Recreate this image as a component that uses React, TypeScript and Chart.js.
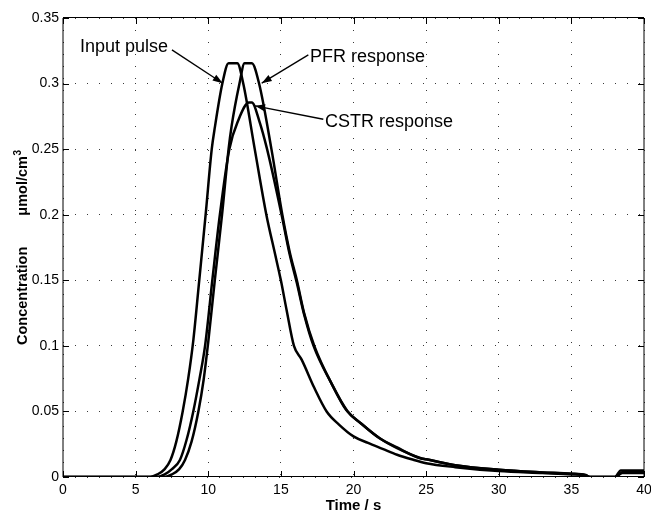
import React, { useEffect, useRef } from 'react';
import { Chart, registerables } from 'chart.js';

Chart.register(...registerables);

// ---- data (time in s, concentration in µmol/cm³) ----
const inputTime = [0, 6.0, 6.5, 7.0, 7.4, 7.8, 8.24, 8.62, 8.98, 9.38, 9.82, 10.24, 10.46, 10.97, 11.4, 12.0, 12.41, 13.2, 14.0, 14.6, 15.0, 15.4, 15.9, 16.43, 17.3, 18.15, 19.0, 20.0, 21.0, 22.0, 23.0, 24.0, 25.0, 27.0, 30.0, 33.0, 35.0, 36.0, 36.3, 38.0, 38.6, 40];
const inputConc = [0, 0, 0.002, 0.006, 0.013, 0.027, 0.05, 0.075, 0.105, 0.15, 0.2, 0.25, 0.267, 0.3, 0.3155, 0.3155, 0.3, 0.25, 0.2, 0.17, 0.15, 0.127, 0.1, 0.0895, 0.068, 0.05, 0.04, 0.031, 0.026, 0.0215, 0.017, 0.0135, 0.0105, 0.0075, 0.0045, 0.003, 0.002, 0.0012, 0, 0, 0.004, 0.004];

const pfrTime = [0, 7.0, 7.5, 8.0, 8.4, 8.85, 9.32, 9.68, 10.0, 10.45, 10.95, 11.4, 11.6, 12.15, 12.5, 13.0, 13.5, 14.35, 15.1, 15.6, 16.1, 16.6, 17.3, 18.5, 19.6, 20.5, 21.8, 23.0, 24.6, 25.0, 27.0, 30.0, 33.0, 35.0, 36.0, 36.2, 38.0, 38.4, 40];
const pfrConc = [0, 0, 0.002, 0.006, 0.013, 0.027, 0.05, 0.074, 0.103, 0.15, 0.2, 0.25, 0.267, 0.3, 0.3155, 0.3155, 0.3, 0.25, 0.2, 0.172, 0.15, 0.125, 0.1, 0.071, 0.05, 0.041, 0.0295, 0.022, 0.0145, 0.0135, 0.009, 0.0055, 0.0035, 0.0025, 0.0015, 0, 0, 0.005, 0.005];

const cstrTime = [0, 6.5, 7.0, 7.5, 8.05, 8.5, 8.97, 9.4, 9.78, 10.3, 10.8, 11.45, 12.07, 12.8, 13.0, 13.5, 14.05, 15.05, 15.6, 16.1, 16.6, 17.25, 18.5, 19.5, 20.5, 21.8, 23.0, 24.6, 25.0, 27.0, 30.0, 33.0, 35.0, 36.0, 36.2, 38.0, 38.5, 40];
const cstrConc = [0, 0, 0.002, 0.006, 0.013, 0.028, 0.05, 0.075, 0.1, 0.152, 0.2, 0.25, 0.272, 0.2855, 0.2855, 0.272, 0.25, 0.2, 0.17, 0.148, 0.124, 0.1, 0.071, 0.051, 0.041, 0.0295, 0.0225, 0.0142, 0.0135, 0.009, 0.0055, 0.0035, 0.0025, 0.0012, 0, 0, 0.003, 0.003];

const xTicks = [0, 5, 10, 15, 20, 25, 30, 35, 40];
const xTickLabels = ['0', '5', '10', '15', '20', '25', '30', '35', '40'];
const yTicks = [0, 0.05, 0.1, 0.15, 0.2, 0.25, 0.3, 0.35];
const yTickLabels = ['0', '0.05', '0.1', '0.15', '0.2', '0.25', '0.3', '0.35'];

const xTitle = 'Time / s';
const yTitleMain = 'Concentration';
const yTitleUnit = 'μmol/cm';
const yTitleSup = '3';

// annotations: label anchor (baseline-left) and arrow, in data units
const annotationLabels = ['Input pulse', 'PFR response', 'CSTR response'];
const annotationLabelT = [1.17, 17.0, 18.04];
const annotationLabelC = [0.3242, 0.3163, 0.2672];
const arrowFromT = [7.5, 16.89, 17.92];
const arrowFromC = [0.3257, 0.3219, 0.2728];
const arrowToT = [10.995, 13.68, 13.22];
const arrowToC = [0.3003, 0.3003, 0.283];

const FONT = '"Liberation Sans", Arial, Helvetica, sans-serif';

const toPoints = (t: number[], c: number[]) => t.map((x, i) => ({ x, y: c[i] }));

const decorPlugin = {
  id: 'decor',
  afterDraw(chart: any) {
    const { ctx, chartArea: a, scales } = chart;
    const xs = scales.x;
    const ys = scales.y;
    ctx.save();

    // box
    ctx.strokeStyle = '#000';
    ctx.lineWidth = 1;
    ctx.beginPath();
    ctx.moveTo(a.left, a.top - 0.5);
    ctx.lineTo(a.right, a.top - 0.5);
    ctx.moveTo(a.left, a.bottom - 0.5);
    ctx.lineTo(a.right, a.bottom - 0.5);
    ctx.moveTo(a.left, a.top);
    ctx.lineTo(a.left, a.bottom);
    ctx.moveTo(a.right, a.top);
    ctx.lineTo(a.right, a.bottom);
    ctx.stroke();

    // inward ticks
    const tl = 6;
    ctx.beginPath();
    xTicks.forEach((v) => {
      const px = Math.round(xs.getPixelForValue(v)) + 0.5;
      ctx.moveTo(px, a.bottom);
      ctx.lineTo(px, a.bottom - tl);
      ctx.moveTo(px, a.top);
      ctx.lineTo(px, a.top + tl);
    });
    yTicks.forEach((v) => {
      const py = Math.round(ys.getPixelForValue(v)) + 0.5;
      ctx.moveTo(a.left, py);
      ctx.lineTo(a.left + tl, py);
      ctx.moveTo(a.right, py);
      ctx.lineTo(a.right - tl, py);
    });
    ctx.stroke();

    // annotations
    ctx.fillStyle = '#000';
    ctx.font = `18px ${FONT}`;
    ctx.textAlign = 'left';
    ctx.textBaseline = 'alphabetic';
    annotationLabels.forEach((label, i) => {
      ctx.fillText(label, xs.getPixelForValue(annotationLabelT[i]), ys.getPixelForValue(annotationLabelC[i]));
      const x0 = xs.getPixelForValue(arrowFromT[i]);
      const y0 = ys.getPixelForValue(arrowFromC[i]);
      const x1 = xs.getPixelForValue(arrowToT[i]);
      const y1 = ys.getPixelForValue(arrowToC[i]);
      ctx.lineWidth = 1.3;
      ctx.beginPath();
      ctx.moveTo(x0, y0);
      ctx.lineTo(x1, y1);
      ctx.stroke();
      const ang = Math.atan2(y1 - y0, x1 - x0);
      const L = 10;
      const W = 3.5;
      const bx = x1 - L * Math.cos(ang);
      const by = y1 - L * Math.sin(ang);
      ctx.beginPath();
      ctx.moveTo(x1, y1);
      ctx.lineTo(bx + W * Math.sin(ang), by - W * Math.cos(ang));
      ctx.lineTo(bx - W * Math.sin(ang), by + W * Math.cos(ang));
      ctx.closePath();
      ctx.fill();
    });

    // x title
    ctx.font = `bold 15px ${FONT}`;
    ctx.textAlign = 'center';
    ctx.fillText(xTitle, (a.left + a.right) / 2, 509.5);

    // y title (rotated)
    const cy = (a.top + a.bottom) / 2;
    ctx.translate(27, cy);
    ctx.rotate(-Math.PI / 2);
    ctx.textAlign = 'left';
    let pos = -97.5;
    ctx.font = `bold 14.5px ${FONT}`;
    ctx.fillText(yTitleMain, pos, 0);
    pos += ctx.measureText(yTitleMain).width + 31;
    ctx.fillText(yTitleUnit, pos, 0);
    pos += ctx.measureText(yTitleUnit).width + 0.5;
    ctx.font = `bold 10px ${FONT}`;
    ctx.fillText(yTitleSup, pos, -6.5);

    ctx.restore();
  },
};

export default function App() {
  const canvasRef = useRef<HTMLCanvasElement | null>(null);

  useEffect(() => {
    if (!canvasRef.current) return;
    const lineStyle = {
      showLine: true,
      borderColor: '#000',
      backgroundColor: '#000',
      borderWidth: 2.5,
      pointRadius: 0,
      cubicInterpolationMode: 'monotone' as const,
      fill: false,
      borderJoinStyle: 'round' as const,
      borderCapStyle: 'round' as const,
    };
    const chart = new Chart(canvasRef.current, {
      type: 'scatter',
      data: {
        datasets: [
          { label: 'Input pulse', data: toPoints(inputTime, inputConc), ...lineStyle },
          { label: 'PFR response', data: toPoints(pfrTime, pfrConc), ...lineStyle },
          { label: 'CSTR response', data: toPoints(cstrTime, cstrConc), ...lineStyle },
        ],
      },
      options: {
        responsive: false,
        animation: false,
        devicePixelRatio: 1,
        layout: { padding: { top: 18, right: 7, bottom: 0, left: 0 } },
        plugins: { legend: { display: false }, tooltip: { enabled: false } },
        scales: {
          x: {
            type: 'linear',
            min: 0,
            max: 40,
            afterBuildTicks: (s: any) => {
              s.ticks = xTicks.map((v) => ({ value: v }));
            },
            afterFit: (s: any) => {
              s.height = 34;
              s.paddingLeft = 0;
              s.paddingRight = 0;
            },
            ticks: {
              autoSkip: false,
              maxRotation: 0,
              padding: 5,
              color: '#000',
              font: { family: FONT, size: 14 },
              callback: (_v: any, i: number) => xTickLabels[i],
            },
            grid: { color: '#3a3a3a', lineWidth: 1, drawTicks: false },
            border: { display: false, dash: [1, 11] },
          },
          y: {
            type: 'linear',
            min: 0,
            max: 0.35,
            afterBuildTicks: (s: any) => {
              s.ticks = yTicks.map((v) => ({ value: v }));
            },
            afterFit: (s: any) => {
              s.width = 63;
              s.paddingTop = 0;
              s.paddingBottom = 0;
            },
            ticks: {
              autoSkip: false,
              padding: 4,
              color: '#000',
              font: { family: FONT, size: 14 },
              callback: (_v: any, i: number) => yTickLabels[i],
            },
            grid: { color: '#3a3a3a', lineWidth: 1, drawTicks: false },
            border: { display: false, dash: [1, 11] },
          },
        },
      },
      plugins: [decorPlugin],
    });
    return () => chart.destroy();
  }, []);

  return (
    <div style={{ position: 'absolute', left: 0, top: 0, width: 651, height: 511, background: '#fff' }}>
      <canvas ref={canvasRef} width={651} height={511} style={{ display: 'block' }} />
    </div>
  );
}
